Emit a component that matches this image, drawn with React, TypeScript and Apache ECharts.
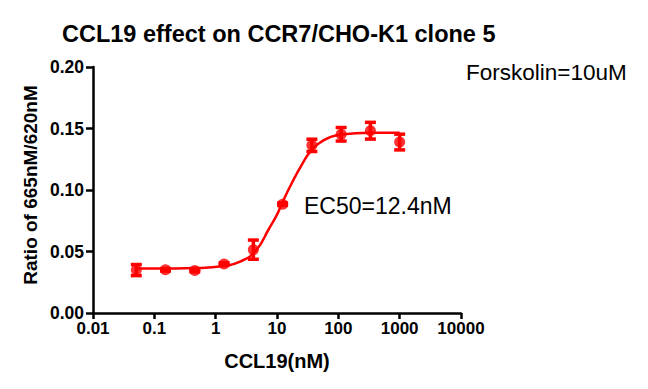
import React, { useEffect, useRef } from "react";
import * as echarts from "echarts";

const concentrations = [0.0508, 0.152, 0.457, 1.372, 4.115, 12.35, 37.04, 111.1, 333.3, 1000];
const ratioMeans = [0.0349, 0.0351, 0.0345, 0.0398, 0.0515, 0.0885, 0.1363, 0.1453, 0.1482, 0.139];
const ratioErrors = [0.0045, 0.001, 0.001, 0.001, 0.0078, 0.001, 0.005, 0.0055, 0.0068, 0.0064];

const curveX = [0.0508, 0.152, 0.457, 1.372, 2.5, 4.48, 7.4, 10, 12.4, 17.8, 26, 35.6, 50, 70, 111, 333, 1000];
const curveY = [0.0361, 0.0362, 0.0365, 0.0382, 0.0418, 0.0505, 0.0685, 0.08, 0.0905, 0.1065, 0.1215, 0.1318, 0.1385, 0.1425, 0.1452, 0.1466, 0.1466];

const xTicks = ["0.01", "0.1", "1", "10", "100", "1000", "10000"];
const yTicks = ["0.00", "0.05", "0.10", "0.15", "0.20"];

const titleText = "CCL19 effect on CCR7/CHO-K1 clone 5";
const noteText = "Forskolin=10uM";
const ec50Text = "EC50=12.4nM";
const xTitle = "CCL19(nM)";
const yTitle = "Ratio of 665nM/620nM";

export default function App() {
  const ref = useRef<HTMLDivElement>(null);
  useEffect(() => {
    if (!ref.current) return;
    const chart = echarts.init(ref.current, null, { renderer: "svg" });
    const font = "Arial, 'Liberation Sans', Helvetica, sans-serif";
    const red = "#ff0000";
    const points = concentrations.map((c, i) => [c, ratioMeans[i]]);
    const errs = concentrations.map((c, i) => [c, ratioMeans[i] - ratioErrors[i], ratioMeans[i] + ratioErrors[i]]);
    const curve = curveX.map((c, i) => [c, curveY[i]]);
    chart.setOption({
      animation: false,
      backgroundColor: "#ffffff",
      textStyle: { fontFamily: font },
      title: {
        text: titleText,
        left: 57,
        top: 17,
        textStyle: { fontFamily: font, fontSize: 23.5, fontWeight: "bold", color: "#000" },
      },
      graphic: [
        {
          type: "text",
          left: 466,
          top: 61,
          style: { text: noteText, font: `22.5px ${font}`, fill: "#000" },
        },
        {
          type: "text",
          left: 304,
          top: 194,
          style: { text: ec50Text, font: `23px ${font}`, fill: "#000" },
        },
        {
          type: "text",
          x: 21,
          y: 185,
          rotation: Math.PI / 2,
          style: {
            text: yTitle,
            font: `bold 19px ${font}`,
            fill: "#000",
            align: "center",
            verticalAlign: "top",
          },
        },
      ],
      grid: { left: 93, right: 187, top: 67, bottom: 76, containLabel: false },
      xAxis: {
        type: "log",
        logBase: 10,
        min: 0.01,
        max: 10000,
        name: xTitle,
        nameLocation: "middle",
        nameGap: 38,
        nameTextStyle: { fontFamily: font, fontSize: 20, fontWeight: "bold", color: "#000" },
        axisLine: { lineStyle: { color: "#000", width: 2.5 } },
        axisTick: { show: true, length: 6, lineStyle: { color: "#000", width: 2.5 } },
        minorTick: { show: false },
        splitLine: { show: false },
        axisLabel: {
          fontFamily: font,
          fontSize: 17,
          fontWeight: "bold",
          color: "#000",
          margin: 7,
          formatter: (v: number) => {
            const idx = Math.round(Math.log10(v)) + 2;
            return xTicks[idx] ?? String(v);
          },
        },
      },
      yAxis: {
        type: "value",
        min: 0,
        max: 0.2,
        interval: 0.05,
        axisLine: { show: true, lineStyle: { color: "#000", width: 2.5 } },
        axisTick: { show: true, length: 7, lineStyle: { color: "#000", width: 2.5 } },
        splitLine: { show: false },
        axisLabel: {
          fontFamily: font,
          fontSize: 17.5,
          fontWeight: "bold",
          color: "#000",
          margin: 9,
          formatter: (v: number) => yTicks[Math.round(v / 0.05)] ?? v.toFixed(2),
        },
      },
      series: [
        {
          type: "line",
          data: curve,
          smooth: true,
          showSymbol: false,
          symbol: "none",
          lineStyle: { color: red, width: 2.5 },
          z: 2,
        },
        {
          type: "custom",
          data: errs,
          z: 3,
          renderItem: (params: any, api: any) => {
            const x = api.value(0);
            const lo = api.coord([x, api.value(1)]);
            const hi = api.coord([x, api.value(2)]);
            const hw = 5.5;
            const style = { stroke: red, lineWidth: 3.5, fill: "none" };
            return {
              type: "group",
              children: [
                { type: "line", shape: { x1: lo[0], y1: lo[1], x2: hi[0], y2: hi[1] }, style },
                { type: "line", shape: { x1: lo[0] - hw, y1: lo[1], x2: lo[0] + hw, y2: lo[1] }, style },
                { type: "line", shape: { x1: hi[0] - hw, y1: hi[1], x2: hi[0] + hw, y2: hi[1] }, style },
              ],
            };
          },
        },
        {
          type: "scatter",
          data: points,
          symbol: "circle",
          symbolSize: 11,
          itemStyle: { color: red },
          z: 4,
        },
      ],
    });
    return () => chart.dispose();
  }, []);
  return (
    <div
      ref={ref}
      style={{ position: "fixed", left: 0, top: 0, width: 648, height: 389 }}
    />
  );
}
